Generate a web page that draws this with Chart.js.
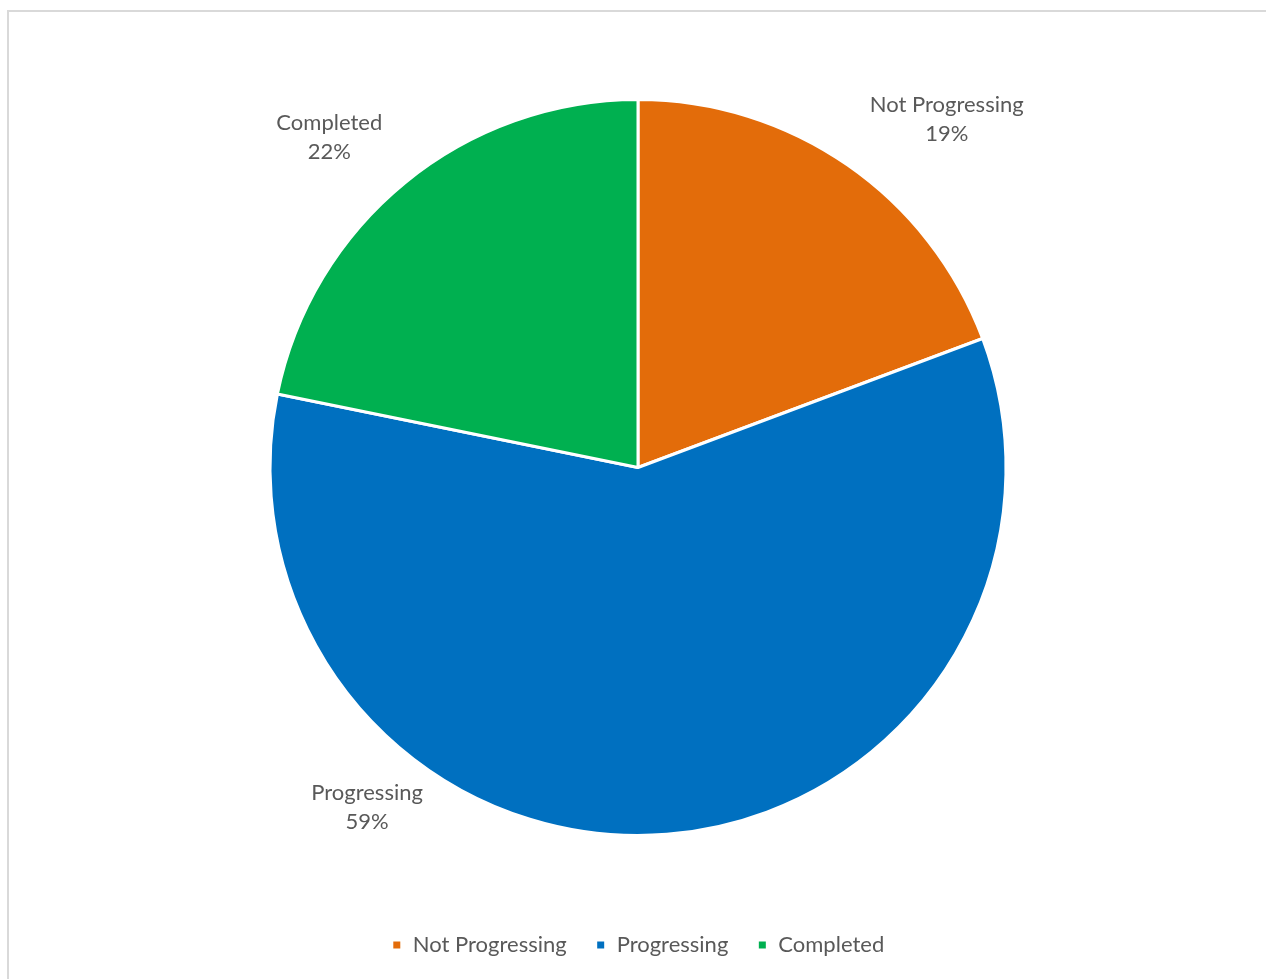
<!DOCTYPE html>
<html>
<head>
<meta charset="utf-8">
<script src="https://cdn.jsdelivr.net/npm/chart.js@4/dist/chart.umd.min.js"></script>
<style>
	html, body { margin: 0; padding: 0; background: #fff; overflow: hidden; }
	#wrap { position: relative; width: 1266px; height: 979px; }
	#frame { position: absolute; left: 7px; top: 10px; width: 1300px; height: 1000px; border: 2px solid #d9d9d9; box-sizing: border-box; }
	canvas { position: absolute; left: 0; top: 0; }
</style>
</head>
<body>
<div id="wrap">
	<div id="frame"></div>
	<canvas id="pieChart" width="1266" height="979"></canvas>
</div>
<script>
const categories = ["Not Progressing", "Progressing", "Completed"];
const shares = [19.3, 58.9, 21.8];
const sliceColors = ["#E36C0A", "#0070C0", "#00B050"];

// where Excel's best fit put each label: angle from top (deg) and distance in radii
const labelPlace = [
	{ angle: 41.5, dist: 1.266 },
	{ angle: 218.6, dist: 1.18 },
	{ angle: 317, dist: 1.23 }
];

const fontFamily = "Lato, 'Open Sans', sans-serif";
const textColor = "#595959";

const outsideLabels = {
	id: 'outsideLabels',
	afterDraw(chart) {
		var ctx = chart.ctx;
		var meta = chart.getDatasetMeta(0);
		ctx.save();
		ctx.font = "22px " + fontFamily;
		ctx.fillStyle = textColor;
		ctx.textAlign = 'center';
		ctx.textBaseline = 'middle';
		meta.data.forEach(function (arc, i) {
			var a = labelPlace[i].angle * Math.PI / 180;
			var r = arc.outerRadius * labelPlace[i].dist;
			var x = arc.x + Math.sin(a) * r;
			var y = arc.y - Math.cos(a) * r;
			ctx.fillText(categories[i], x, y - 14);
			ctx.fillText(Math.round(shares[i]) + "%", x, y + 15);
		});
		ctx.restore();
	}
};

var ctx = document.getElementById('pieChart');
var myChart = new Chart(ctx, {
	type: 'pie',
	data: {
		labels: categories,
		datasets: [{
			data: shares,
			backgroundColor: sliceColors,
			borderColor: '#ffffff',
			borderWidth: 3
		}]
	},
	options: {
		responsive: false,
		animation: false,
		radius: 368,
		layout: { padding: { top: 30, bottom: 13, left: 10, right: 0 } },
		plugins: {
			legend: {
				position: 'bottom',
				labels: {
					boxWidth: 10,
					boxHeight: 10,
					padding: 29,
					color: textColor,
					font: { size: 22, family: fontFamily }
				}
			},
			tooltip: { enabled: false }
		}
	},
	plugins: [outsideLabels]
});
</script>
</body>
</html>
